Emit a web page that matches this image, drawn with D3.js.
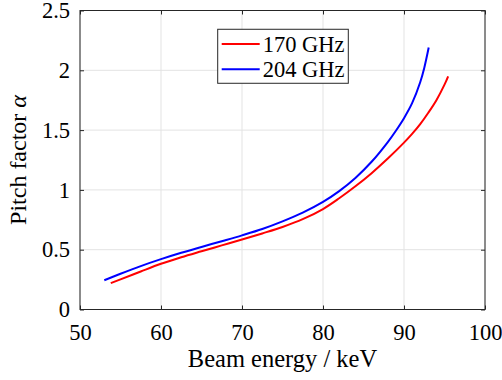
<!DOCTYPE html>
<html>
<head>
<meta charset="utf-8">
<script src="https://cdn.jsdelivr.net/npm/d3@7"></script>
<style>
  body { margin: 0; background: #fff; }
  svg { display: block; font-family: 'Liberation Serif', 'Times New Roman', serif; }
</style>
</head>
<body>
<svg id="chart" width="502" height="380"></svg>
<script>
// Beam energy (keV) vs pitch factor
const energy204 = [53.0, 55, 57.5, 60, 62.5, 65, 67.5, 70, 72.5, 75, 77.5, 80, 82, 84, 86, 88, 89, 90, 91, 92, 92.5, 93.05];
const alpha204 = [0.245, 0.299, 0.363, 0.421, 0.474, 0.523, 0.571, 0.62, 0.673, 0.737, 0.81, 0.9, 0.99, 1.1, 1.235, 1.4, 1.495, 1.6, 1.725, 1.9, 2.02, 2.19];

const energy170 = [53.8, 55, 57.5, 60, 62.5, 65, 67.5, 70, 72.5, 75, 77.5, 80, 82, 84, 86, 88, 90, 91, 92, 93, 94, 95, 95.45];
const alpha170 = [0.22, 0.252, 0.318, 0.382, 0.437, 0.487, 0.536, 0.585, 0.636, 0.69, 0.755, 0.84, 0.93, 1.03, 1.14, 1.262, 1.395, 1.468, 1.55, 1.645, 1.75, 1.88, 1.95];

const series = [
  { name: '170 GHz', color: '#ff0000', x: energy170, y: alpha170 },
  { name: '204 GHz', color: '#0000ff', x: energy204, y: alpha204 },
];

const xTicks = [50, 60, 70, 80, 90, 100];
const yTicks = [0, 0.5, 1, 1.5, 2, 2.5];

const margin = { top: 10.5, left: 80, right: 17, bottom: 70.5 };
const svg = d3.select('#chart');
const W = +svg.attr('width'), H = +svg.attr('height');
const width = W - margin.left - margin.right;
const height = H - margin.top - margin.bottom;

const x = d3.scaleLinear().domain([50, 100]).range([0, width]);
const y = d3.scaleLinear().domain([0, 2.5]).range([height, 0]);

const g = svg.append('g').attr('transform', `translate(${margin.left},${margin.top})`);

// grid
g.append('g')
  .selectAll('line')
  .data(xTicks)
  .join('line')
  .attr('x1', (d) => x(d)).attr('x2', (d) => x(d))
  .attr('y1', 0).attr('y2', height)
  .attr('stroke', '#e3e3e3');
g.append('g')
  .selectAll('line')
  .data(yTicks)
  .join('line')
  .attr('y1', (d) => y(d)).attr('y2', (d) => y(d))
  .attr('x1', 0).attr('x2', width)
  .attr('stroke', '#e3e3e3');

// curves
const line = d3.line().curve(d3.curveCatmullRom.alpha(0.5));
g.append('g')
  .selectAll('path')
  .data(series)
  .join('path')
  .attr('fill', 'none')
  .attr('stroke', (d) => d.color)
  .attr('stroke-width', 2)
  .attr('d', (d) => line(d.x.map((v, i) => [x(v), y(d.y[i])])));

// axes, ticks inward on all four sides
const axisStyle = (sel) => {
  sel.attr('font-family', 'Liberation Serif, serif').attr('font-size', 22.5);
  sel.select('.domain').remove();
  sel.selectAll('.tick line').attr('stroke', '#262626');
  sel.selectAll('.tick text')
    .attr('fill', '#000')
    .style('font-family', "'Liberation Serif', serif");
};
g.append('g')
  .attr('transform', `translate(0,${height})`)
  .call(d3.axisBottom(x).tickValues(xTicks).tickSizeInner(-4).tickSizeOuter(0).tickPadding(15))
  .call(axisStyle);
g.append('g')
  .call(d3.axisLeft(y).tickValues(yTicks).tickSizeInner(-4).tickSizeOuter(0).tickPadding(10).tickFormat(d3.format('')))
  .call(axisStyle);
g.append('g')
  .call(d3.axisTop(x).tickValues(xTicks).tickSizeInner(-4).tickSizeOuter(0).tickFormat(''))
  .call(axisStyle);
g.append('g')
  .attr('transform', `translate(${width},0)`)
  .call(d3.axisRight(y).tickValues(yTicks).tickSizeInner(-4).tickSizeOuter(0).tickFormat(''))
  .call(axisStyle);

g.append('rect')
  .attr('width', width).attr('height', height)
  .attr('fill', 'none').attr('stroke', '#262626').attr('stroke-width', 1);

// axis labels
g.append('text')
  .attr('x', width / 2).attr('y', height + 57)
  .attr('text-anchor', 'middle')
  .attr('font-size', 24.5)
  .text('Beam energy / keV');

const yl = g.append('text')
  .attr('transform', `translate(${-54.5},${height / 2}) rotate(-90)`)
  .attr('text-anchor', 'middle')
  .attr('font-size', 24);
yl.append('tspan').text('Pitch factor ');
yl.append('tspan').attr('font-style', 'italic').text('α');

// legend
const lg = g.append('g').attr('transform', `translate(${x(67)},${y(2.343)})`);
lg.append('rect')
  .attr('width', 130.6).attr('height', 54)
  .attr('fill', '#fff').attr('stroke', '#262626');
const item = lg.selectAll('g.item')
  .data(series)
  .join('g')
  .attr('transform', (d, i) => `translate(0,${14.7 + i * 25.3})`);
item.append('line')
  .attr('x1', 4).attr('x2', 42)
  .attr('stroke', (d) => d.color).attr('stroke-width', 2);
item.append('text')
  .attr('x', 45).attr('dy', '0.35em')
  .attr('font-size', 22.5)
  .text((d) => d.name);
</script>
</body>
</html>
